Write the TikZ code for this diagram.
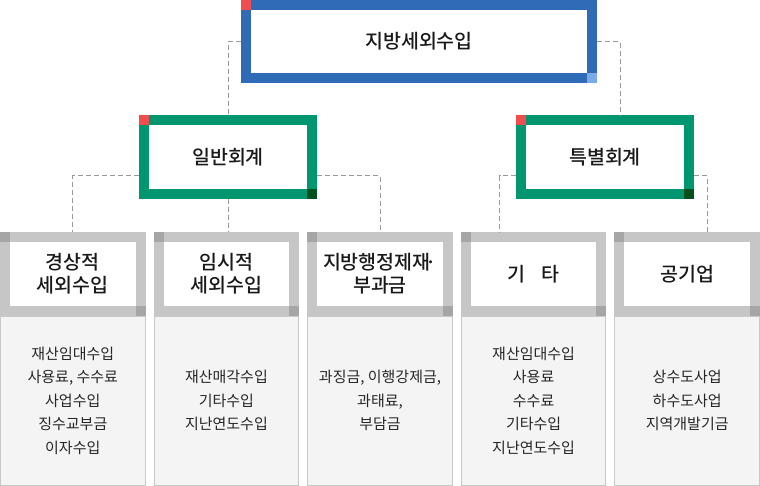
\documentclass[tikz,border=0pt]{standalone}
\usepackage{fontspec}
\setmainfont{Noto Sans CJK KR}
\newfontfamily\krmed{Noto Sans CJK KR Medium}
\usepackage{tikz}
\usetikzlibrary{positioning}

\definecolor{topblue}{HTML}{2F6BB6}
\definecolor{toplight}{HTML}{7AAAE8}
\definecolor{cornerred}{HTML}{F04E4E}
\definecolor{accgreen}{HTML}{00966F}
\definecolor{accdark}{HTML}{04501C}
\definecolor{boxgray}{HTML}{C6C6C6}
\definecolor{boxdark}{HTML}{A6A6A6}
\definecolor{listgray}{HTML}{C8C8C8}
\definecolor{listfill}{HTML}{F4F4F4}
\definecolor{linkgray}{HTML}{999999}

\begin{document}
\begin{tikzpicture}[x=1pt,y=-1pt,
		title/.style={draw=topblue,line width=10pt,outer sep=5pt,inner sep=0pt,
			minimum width=346pt,minimum height=73pt,text=black!90,
			font=\krmed\fontsize{19.5pt}{22pt}\selectfont},
		account/.style={draw=accgreen,line width=10pt,outer sep=5pt,inner sep=0pt,
			minimum width=168pt,minimum height=74pt,text=black!90,
			font=\krmed\fontsize{19.5pt}{22pt}\selectfont},
		item/.style={draw=boxgray,line width=10pt,outer sep=5pt,inner sep=0pt,
			minimum width=135.7pt,minimum height=74pt,align=center,text=black!90,
			font=\krmed\fontsize{19.5pt}{22.5pt}\selectfont},
		list/.style={draw=listgray,fill=listfill,line width=1pt,outer sep=.5pt,
			minimum width=144.7pt,minimum height=169pt,align=center,text=black!85,
			font=\fontsize{15pt}{23.5pt}\selectfont},
		link/.style={draw=linkgray,line width=1pt,dash pattern=on 5pt off 3pt}]
	\useasboundingbox (0,0) rectangle (760,486);

	\node[title] (top) at (419,41.7) {지방세외수입};
	\node[account] (general) at (228,157) {일반회계};
	\node[account] (special) at (605,157) {특별회계};

	\node[item] (regular) at (72.8,273.7) {경상적\\세외수입};
	\node[item] (temporary) at (226.4,273.7) {임시적\\세외수입};
	\node[item] (penalty) at (380,273.7) {지방행정제재\kern-0.25em·\\부과금};
	\node[item] (other) at (533.6,273.7) {기\hspace{0.8em}타};
	\node[item] (public) at (687.2,273.7) {공기업};

	\node[list, below=0pt of regular] (regularlist) {재산임대수입\\사용료, 수수료\\사업수입\\징수교부금\\이자수입};
	\node[list, below=0pt of temporary] (temporarylist) {재산매각수입\\기타수입\\지난연도수입};
	\node[list, below=0pt of penalty] (penaltylist) {과징금, 이행강제금,\\과태료,\\부담금};
	\node[list, below=0pt of other] (otherlist) {재산임대수입\\사용료\\수수료\\기타수입\\지난연도수입};
	\node[list, below=0pt of public] (publiclist) {상수도사업\\하수도사업\\지역개발기금};

	% corner marks
	\fill[cornerred] (top.north west) rectangle ++(10,10);
	\fill[toplight] (top.south east) rectangle ++(-10,-10);
	\foreach \n in {general,special} {
		\fill[cornerred] (\n.north west) rectangle ++(10,10);
		\fill[accdark] (\n.south east) rectangle ++(-10,-10);
	}
	\foreach \n in {regular,temporary,penalty,other,public} {
		\fill[boxdark] (\n.north west) rectangle ++(10,10);
		\fill[boxdark] (\n.south east) rectangle ++(-10,-10);
	}

	\draw[link] (top.west) -| (general.north);
	\draw[link] (top.east) -| ([xshift=15pt]special.north);
	\draw[link] ([yshift=-19pt]general.west) -| (regular.north);
	\draw[link] (general.south) -- (general.south |- temporary.north);
	\draw[link] ([yshift=-19pt]general.east) -| (penalty.north);
	\draw[link] ([yshift=-19pt]special.west) -| ([xshift=-34pt]other.north);
	\draw[link] ([yshift=-19pt]special.east) -| ([xshift=20pt]public.north);
\end{tikzpicture}
\end{document}
